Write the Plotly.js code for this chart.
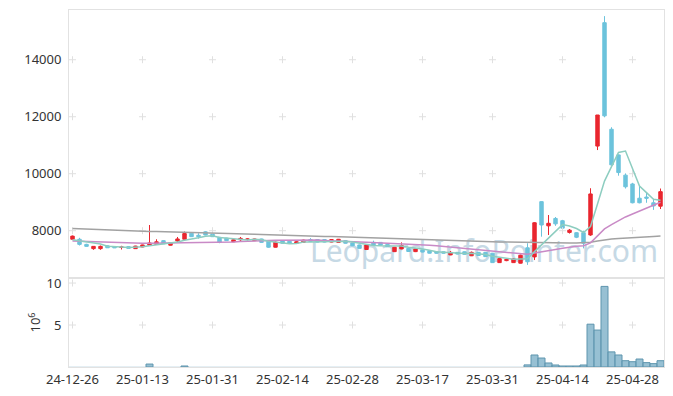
<!DOCTYPE html>
<html><head><meta charset="utf-8">
<script src="https://cdn.plot.ly/plotly-3.0.1.min.js"></script>
<style>html,body{margin:0;padding:0;background:#fff}#chart{width:673px;height:396px}</style>
</head><body><div id="chart"></div>
<script>
const dates = ['24-12-26','24-12-27','24-12-30',
'25-01-02','25-01-03','25-01-06','25-01-07','25-01-08','25-01-09','25-01-10',
'25-01-13','25-01-14','25-01-15','25-01-16','25-01-17',
'25-01-20','25-01-21','25-01-22','25-01-23','25-01-24',
'25-01-31',
'25-02-03','25-02-04','25-02-05','25-02-06','25-02-07',
'25-02-10','25-02-11','25-02-12','25-02-13','25-02-14',
'25-02-17','25-02-18','25-02-19','25-02-20','25-02-21',
'25-02-24','25-02-25','25-02-26','25-02-27','25-02-28',
'25-03-04','25-03-05','25-03-06','25-03-07',
'25-03-10','25-03-11','25-03-12','25-03-13','25-03-14',
'25-03-17','25-03-18','25-03-19','25-03-20','25-03-21',
'25-03-24','25-03-25','25-03-26','25-03-27','25-03-28',
'25-03-31',
'25-04-01','25-04-02','25-04-03','25-04-04',
'25-04-07','25-04-08','25-04-09','25-04-10','25-04-11',
'25-04-14',
'25-04-15','25-04-16','25-04-17','25-04-18',
'25-04-21','25-04-22','25-04-23','25-04-24','25-04-25',
'25-04-28','25-04-29','25-04-30','25-05-02','25-05-07'];

const opens = [7700,7700,7520,7370,7370,7470,7440,7410,7440,7370,
 7430,7490,7520,7650,7490,7640,7700,7910,7840,7960,
 7880,7770,7740,7610,7680,7690,7650,7710,7630,7420,
 7640,7630,7560,7590,7690,7690,7690,7600,7590,7650,
 7570,7500,7340,7590,7590,7520,7265,7360,7380,7265,
 7320,7300,7260,7260,7150,7240,7260,7120,7240,7240,
 7210,6880,6950,6880,6860,7400,7080,9020,8170,8430,
 8350,7940,7930,7930,7850,10970,15300,11560,10660,9950,
 9640,9140,9180,8980,8860];
const highs = [7830,7750,7540,7460,7480,7490,7450,7470,7450,7470,
 7510,8200,7700,7660,7590,7780,7970,7920,7910,7980,
 7900,7780,7750,7700,7780,7730,7720,7720,7640,7620,
 7660,7640,7630,7690,7740,7700,7700,7700,7710,7660,
 7580,7510,7510,7650,7600,7530,7430,7590,7390,7370,
 7330,7310,7270,7270,7290,7250,7270,7270,7250,7250,
 7220,7030,7000,7030,7160,7560,8300,9030,8550,8480,
 8380,8060,7950,8000,9490,12060,15530,11630,10680,10010,
 9680,9600,9330,9120,9480];
const lows = [7690,7480,7440,7330,7330,7400,7400,7340,7380,7360,
 7420,7480,7510,7540,7480,7580,7690,7780,7720,7840,
 7780,7560,7640,7600,7640,7660,7640,7580,7400,7410,
 7550,7550,7550,7580,7610,7590,7590,7590,7580,7550,
 7460,7370,7330,7490,7480,7430,7250,7350,7260,7250,
 7240,7200,7200,7200,7140,7170,7160,7110,7120,7080,
 6870,6870,6930,6870,6850,6800,6970,7790,7850,8170,
 8060,7900,7740,7380,7820,10830,11980,10280,9930,9480,
 8960,8960,8980,8730,8760];
const closes = [7810,7520,7450,7450,7450,7400,7400,7430,7380,7460,
 7500,7570,7610,7540,7580,7710,7900,7790,7790,7850,
 7790,7590,7650,7680,7730,7710,7710,7590,7420,7600,
 7560,7560,7610,7670,7620,7600,7600,7690,7700,7560,
 7470,7380,7500,7500,7490,7440,7420,7480,7270,7360,
 7250,7210,7210,7210,7240,7180,7170,7240,7130,7090,
 6880,7020,6990,7010,7140,6910,8280,8200,8260,8240,
 8090,8020,7770,7560,9290,12060,12030,10310,10040,9540,
 8980,8980,9140,8870,9370];
// volume in millions of shares
const volumes = [0.03,0.03,0.03,0.03,0.03,0.03,0.03,0.03,0.03,0.03,
 0.03,0.35,0.03,0.03,0.03,0.03,0.12,0.03,0.03,0.03,
 0.03,0.03,0.03,0.03,0.03,0.03,0.03,0.03,0.03,0.03,
 0.03,0.03,0.03,0.03,0.03,0.03,0.03,0.03,0.03,0.03,
 0.03,0.03,0.03,0.03,0.03,0.03,0.03,0.03,0.03,0.03,
 0.03,0.03,0.03,0.03,0.03,0.03,0.03,0.03,0.03,0.03,
 0.03,0.03,0.03,0.03,0.03,0.25,1.43,1.07,0.48,0.24,
 0.12,0.12,0.12,0.24,5.1,4.4,9.6,1.8,1.43,0.75,
 0.63,0.95,0.52,0.4,0.75];
const ma5 = [7680,7640,7600,7560,7536,7454,7430,7426,7412,7414,
 7434,7468,7504,7536,7560,7602,7668,7704,7754,7808,
 7824,7762,7734,7712,7688,7672,7696,7684,7632,7606,
 7576,7546,7550,7600,7604,7612,7620,7636,7642,7630,
 7604,7560,7522,7482,7468,7462,7470,7466,7420,7394,
 7356,7314,7260,7248,7224,7210,7202,7208,7192,7162,
 7102,7072,7022,6998,7008,7014,7266,7508,7758,7978,
 8214,8162,8076,7936,8146,8940,9742,10250,10746,10796,
 10180,9570,9336,9102,9068];
const ma20 = [7640,7630,7620,7610,7600,7590,7580,7570,7565,7560,
 7558,7558,7560,7565,7570,7575,7580,7582,7582,7580,
 7579,7582,7592,7604,7618,7633,7649,7657,7659,7666,
 7669,7668,7668,7675,7677,7671,7656,7651,7647,7632,
 7616,7606,7598,7589,7577,7564,7549,7544,7536,7524,
 7509,7491,7471,7448,7429,7408,7387,7364,7336,7312,
 7283,7265,7239,7215,7197,7171,7214,7250,7299,7343,
 7385,7426,7454,7471,7574,7818,8061,8214,8360,8482,
 8587,8685,8793,8886,8997];
const maLong = [8080,8070,8060,8030,8020,8010,8000,7995,7990,7985,
 7980,7975,7970,7965,7960,7955,7950,7945,7940,7935,
 7925,7915,7910,7900,7895,7885,7875,7865,7855,7850,
 7840,7830,7820,7815,7810,7805,7800,7795,7790,7780,
 7775,7765,7760,7750,7740,7735,7725,7720,7710,7700,
 7690,7680,7670,7665,7655,7645,7640,7630,7625,7620,
 7610,7605,7600,7595,7590,7580,7575,7570,7565,7565,
 7565,7565,7570,7575,7595,7640,7680,7705,7725,7745,
 7760,7775,7790,7800,7812];
const tickLabels = ['24-12-26','25-01-13','25-01-31','25-02-14','25-02-28','25-03-17','25-03-31','25-04-14','25-04-28'];
const priceTicks = [8000,10000,12000,14000];
const volTicks = [5,10];

const FONT = 'Noto Sans, Open Sans, sans-serif';
function crosses(xs, ys, yaxis){
  const x=[],y=[];
  xs.forEach(a=>ys.forEach(b=>{x.push(a);y.push(b);}));
  return {type:'scatter',mode:'markers',x:x,y:y,xaxis:'x',yaxis:yaxis,
    marker:{symbol:'cross-thin',size:5,line:{color:'#e0e0e0',width:1}},
    hoverinfo:'skip',showlegend:false,cliponaxis:false};
}
const line = (y,color)=>({type:'scatter',mode:'lines',x:dates,y:y,xaxis:'x',yaxis:'y',
  line:{color:color,width:1.5},hoverinfo:'skip',showlegend:false});

const traces = [
  crosses(tickLabels, priceTicks, 'y'),
  crosses(tickLabels, volTicks, 'y2'),
  line(maLong,'#a2a2a2'),
  line(ma20,'#c98ac6'),
  line(ma5,'#8dcdc0'),
  {type:'candlestick',x:dates,open:opens,high:highs,low:lows,close:closes,xaxis:'x',yaxis:'y',
   increasing:{line:{color:'#e9262f',width:1},fillcolor:'#e9262f'},
   decreasing:{line:{color:'#6cc3dc',width:1},fillcolor:'#6cc3dc'},
   whiskerwidth:0,showlegend:false,hoverinfo:'skip'},
  {type:'bar',x:dates,y:volumes,xaxis:'x',yaxis:'y2',
   marker:{color:'rgba(133,181,203,0.85)',
     line:{color:'#5e95ae',width:volumes.map(v=>v>0.1?1:0)}},
   showlegend:false,hoverinfo:'skip'}
];

const layout = {
  width:673,height:396,
  margin:{l:69,r:9,t:10,b:29},
  paper_bgcolor:'#fff',plot_bgcolor:'#fff',
  font:{family:FONT,size:13,color:'#333'},
  showlegend:false,bargap:0,
  xaxis:{type:'category',categoryorder:'array',categoryarray:dates,range:[-0.5,84.5],
    anchor:'y2',tickmode:'array',tickvals:tickLabels,ticktext:tickLabels,
    showgrid:false,zeroline:false,showline:true,linecolor:'#e2e2e2',mirror:'all',
    ticks:'',rangeslider:{visible:false},tickfont:{size:13,color:'#333'}},
  yaxis:{domain:[0.2493,1],range:[6340,15745],tickmode:'array',tickvals:priceTicks,
    tickformat:'d',
    showgrid:false,zeroline:false,showline:true,linecolor:'#e2e2e2',mirror:true,
    ticks:'',ticklabelstandoff:4,tickfont:{size:13,color:'#333'}},
  yaxis2:{domain:[0,0.2493],range:[0,10.6],tickmode:'array',tickvals:volTicks,
    tickformat:'d',
    showgrid:false,zeroline:false,showline:true,linecolor:'#e2e2e2',mirror:true,
    ticks:'',ticklabelstandoff:4,tickfont:{size:13,color:'#333'},
    title:{text:'10<sup>6</sup>',font:{size:13,color:'#333'},standoff:2}},
  shapes:[{type:'rect',xref:'paper',yref:'paper',x0:0.45,x1:0.945,y0:0.27,y1:0.37,
    layer:'below',line:{width:0},fillcolor:'rgba(0,0,0,0)',
    label:{text:'Leopard.InfoPointer.com',textposition:'middle center',
      font:{size:30,color:'#c6d9e5',family:FONT}}}]
};
Plotly.newPlot('chart',traces,layout,{staticPlot:true,displayModeBar:false});
</script>
</body></html>
